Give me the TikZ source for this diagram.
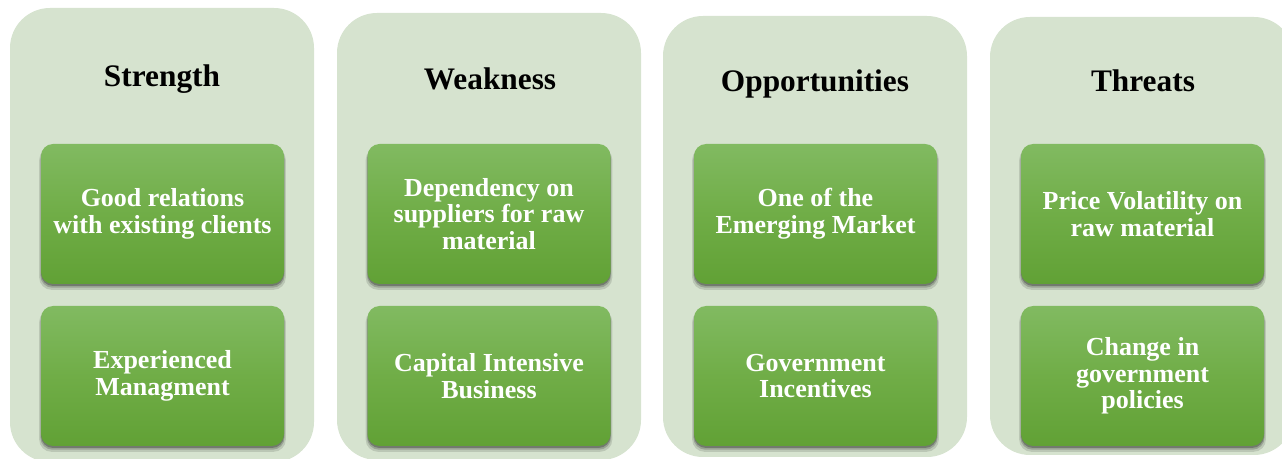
\documentclass[tikz,border=0pt]{standalone}
\usepackage{fontspec}
\setmainfont{Liberation Serif}
\usetikzlibrary{shadows}
\definecolor{panelbg}{RGB}{214,227,207}
\definecolor{itemtop}{RGB}{129,186,97}
\definecolor{itemmid}{RGB}{112,173,71}
\definecolor{itembot}{RGB}{97,161,53}
\tikzset{% 
    panel/.style={fill=panelbg,rounded corners=30pt,minimum width=228pt,inner sep=0pt},
    item/.style={rounded corners=9pt,minimum width=182.25pt,minimum height=105pt,
        top color=itemtop,bottom color=itembot,middle color=itemmid,
        text=white,align=center,font=\bfseries\fontsize{19.5}{20}\selectfont,
        drop shadow={shadow xshift=0pt,shadow yshift=-3.5pt,shadow scale=1.015,opacity=0.12,fill=black},
        drop shadow={shadow xshift=0pt,shadow yshift=-2.5pt,shadow scale=1.005,opacity=0.18,fill=black},
        drop shadow={shadow xshift=0pt,shadow yshift=-1.5pt,opacity=0.25,fill=black}}
}

\begin{document}
\begin{tikzpicture}[
            x=0.75pt,y=-0.75pt,
            title/.style={anchor=base,font=\bfseries\fontsize{23.5}{28}\selectfont}
            ]
            \useasboundingbox (0,0) rectangle (1282,459);

            \node[panel,minimum height=340.5pt] (sp) at (162,235){};
            \node[panel,minimum height=335.25pt] (wp) at (489,236.5){};
            \node[panel,minimum height=330.75pt] (op) at (815,236.5){};
            \node[panel,minimum height=328.5pt] (tp) at (1142,236){};

            \node[title] (st) at (162,87){Strength};
            \node[title] (wt) at (490,90){Weakness};
            \node[title] (ot) at (815,92){Opportunities};
            \node[title] (tt) at (1143,92){Threats};

            \node[item] (s1) at (162.5,214){Good relations\\with existing clients};
            \node[item] (s2) at (162.5,376){Experienced\\Managment};

            \node[item] (w1) at (489,214){Dependency on\\suppliers for raw\\material};
            \node[item] (w2) at (489,376){Capital Intensive\\Business};

            \node[item] (o1) at (815.5,214){One of the\\Emerging Market};
            \node[item] (o2) at (815.5,376){Government\\Incentives};

            \node[item] (t1) at (1142.5,214){Price Volatility on\\raw material};
            \node[item] (t2) at (1142.5,376){Change in\\government\\policies};
        \end{tikzpicture}
\end{document}
